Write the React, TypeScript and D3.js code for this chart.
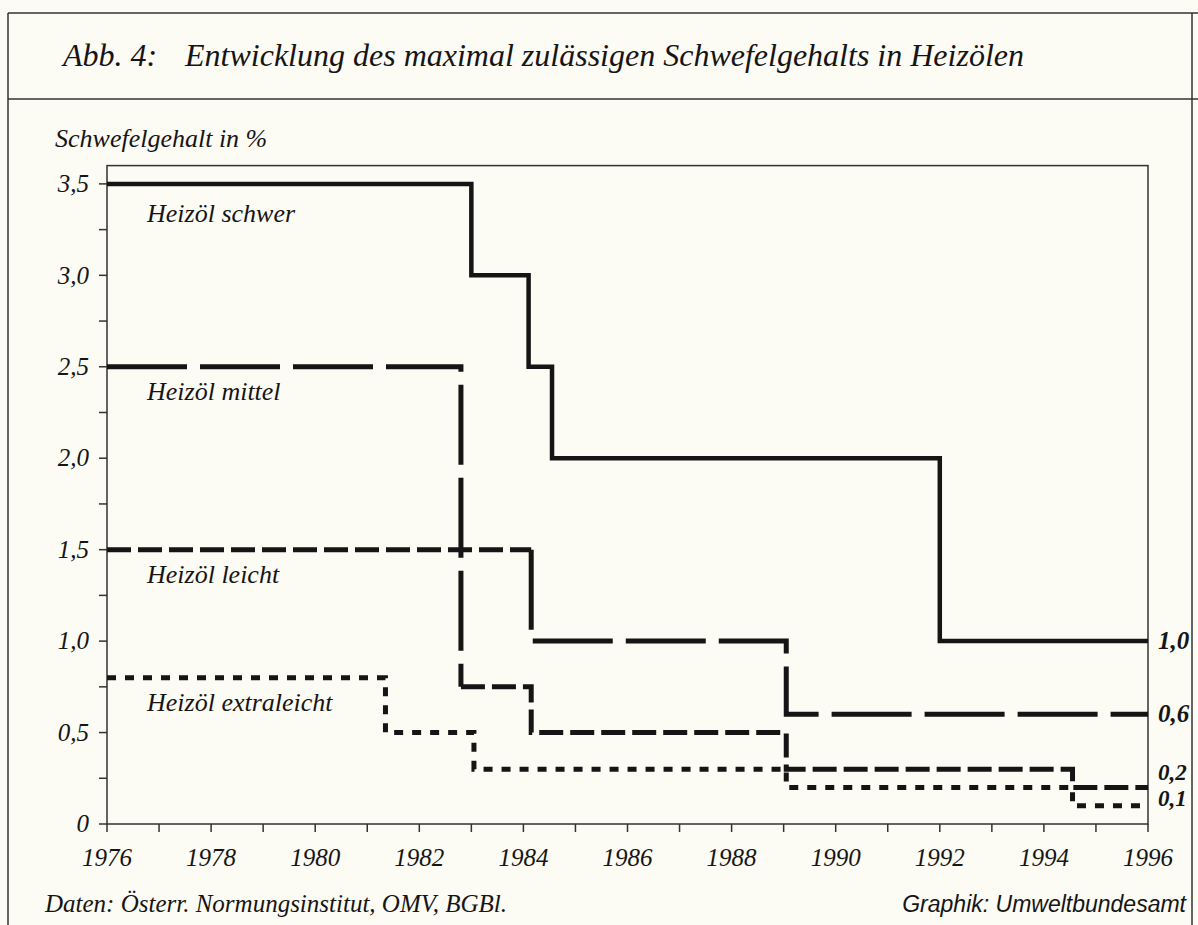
import React, { useEffect } from "react";
import * as d3 from "d3";

// Schwefelgehalt (%) als Stufen: [Jahr ab dem gilt, Wert]
const schwer: [number, number][] = [[1976, 3.5], [1983.0, 3.0], [1984.1, 2.5], [1984.55, 2.0], [1992, 1.0], [1996, 1.0]];
const mittel: [number, number][] = [[1976, 2.5], [1982.8, 0.75], [1984.15, 0.5], [1989.05, 0.3], [1994.55, 0.2], [1996, 0.2]];
const leicht: [number, number][] = [[1976, 1.5], [1984.15, 1.0], [1989.05, 0.6], [1996, 0.6]];
const extraleicht: [number, number][] = [[1976, 0.8], [1981.35, 0.5], [1983.05, 0.3], [1989.05, 0.2], [1994.55, 0.1], [1996, 0.1]];

const seriesNames = ["Heizöl schwer", "Heizöl mittel", "Heizöl leicht", "Heizöl extraleicht"];
const yTickValues = [0, 0.5, 1, 1.5, 2, 2.5, 3, 3.5];
const yTickLabels = ["0", "0,5", "1,0", "1,5", "2,0", "2,5", "3,0", "3,5"];
const xTickLabels = ["1976", "1978", "1980", "1982", "1984", "1986", "1988", "1990", "1992", "1994", "1996"];
const endValues = [1.0, 0.6, 0.2, 0.1];
const endLabels = ["1,0", "0,6", "0,2", "0,1"];

const W = 1198, H = 925;
const serif = "'Liberation Serif', 'Times New Roman', serif";
const ink = "#151515";

const LONG = "80 13", MED = "24 7", DOT = "9 9";

export default function App() {
  useEffect(() => {
    document.body.style.margin = "0";
  }, []);

  const x = d3.scaleLinear().domain([1976, 1996]).range([107, 1148]);
  const y = d3.scaleLinear().domain([0, 3.6]).range([824, 165.6]);

  const line = d3.line<[number, number]>()
    .x(d => x(d[0]))
    .y(d => y(d[1]))
    .curve(d3.curveStepAfter);

  // split a step series in two parts with their own dash
  function split(pts: [number, number][], s: number, vertInHead: boolean) {
    if (vertInHead) return [pts.slice(0, s + 1), pts.slice(s)];
    const bridge: [number, number] = [pts[s][0], pts[s - 1][1]];
    return [[...pts.slice(0, s), bridge], [bridge, ...pts.slice(s)]];
  }
  const [mHead, mTail] = split(mittel, 1, true);
  const [lHead, lTail] = split(leicht, 1, false);

  const paths = [
    { d: line(extraleicht), dash: DOT, w: 5 },
    { d: line(lHead), dash: MED, w: 5 },
    { d: line(lTail), dash: LONG, w: 5 },
    { d: line(mHead), dash: LONG, w: 5 },
    { d: line(mTail), dash: MED, w: 5 },
    { d: line(schwer), dash: null, w: 4.5 },
  ];

  const yMinor = d3.range(0, 3.5001, 0.25);
  const xYears = d3.range(1976, 1997, 1);

  const labelY = [222, 400, 583, 711];
  const endNudge = [8, 8, -7, 0];

  return (
    <svg width={W} height={H} style={{ display: "block", background: "#fcfbf4" }}>
      {/* outer frame */}
      <g stroke="#333" strokeWidth={1.5} fill="none">
        <line x1={8} y1={13} x2={1198} y2={13} />
        <line x1={8} y1={99} x2={1198} y2={99} />
        <line x1={8} y1={13} x2={8} y2={925} />
        <line x1={1192} y1={13} x2={1192} y2={925} />
      </g>
      <text x={63} y={66} fontFamily={serif} fontStyle="italic" fontSize={32} fill={ink}>
        Abb. 4:
      </text>
      <text x={185} y={66} fontFamily={serif} fontStyle="italic" fontSize={32} fill={ink}>
        Entwicklung des maximal zulässigen Schwefelgehalts in Heizölen
      </text>
      <text x={55} y={147} fontFamily={serif} fontStyle="italic" fontSize={26} fill={ink}>
        Schwefelgehalt in %
      </text>

      {/* plot frame */}
      <rect x={x(1976)} y={y(3.6)} width={x(1996) - x(1976)} height={y(0) - y(3.6)}
        fill="none" stroke="#333" strokeWidth={1.5} />

      {/* ticks */}
      <g stroke="#333" strokeWidth={1.5}>
        {yMinor.map(v => (
          <line key={v} x1={x(1976) - 8} x2={x(1976)} y1={y(v)} y2={y(v)} />
        ))}
        {xYears.map(t => (
          <line key={t} x1={x(t)} x2={x(t)} y1={y(0)} y2={y(0) + 8} />
        ))}
      </g>
      {yTickValues.map((v, i) => (
        <text key={v} x={x(1976) - 18} y={y(v)} dy="0.33em" textAnchor="end"
          fontFamily={serif} fontStyle="italic" fontSize={25} fill={ink}>
          {yTickLabels[i]}
        </text>
      ))}
      {xTickLabels.map(t => (
        <text key={t} x={x(+t)} y={866} textAnchor="middle"
          fontFamily={serif} fontStyle="italic" fontSize={25} fill={ink}>
          {t}
        </text>
      ))}

      {/* series */}
      {paths.map((p, i) => (
        <path key={i} d={p.d || ""} fill="none" stroke={ink} strokeWidth={p.w}
          strokeDasharray={p.dash || undefined} strokeLinejoin="miter" />
      ))}

      {seriesNames.map((n, i) => (
        <text key={n} x={147} y={labelY[i]} fontFamily={serif} fontStyle="italic"
          fontSize={26} fill={ink}>
          {n}
        </text>
      ))}

      {endValues.map((v, i) => (
        <text key={i} x={1158} y={y(v) + endNudge[i]} fontFamily={serif} fontStyle="italic"
          fontWeight="bold" fontSize={i < 2 ? 25 : 23} fill={ink}>
          {endLabels[i]}
        </text>
      ))}

      <text x={45} y={912} fontFamily={serif} fontStyle="italic" fontSize={25} fill={ink}>
        Daten: Österr. Normungsinstitut, OMV, BGBl.
      </text>
      <text x={1186} y={912} textAnchor="end" fontFamily="'Liberation Sans', Arial, sans-serif"
        fontStyle="italic" fontSize={23} fill={ink}>
        Graphik: Umweltbundesamt
      </text>
    </svg>
  );
}
